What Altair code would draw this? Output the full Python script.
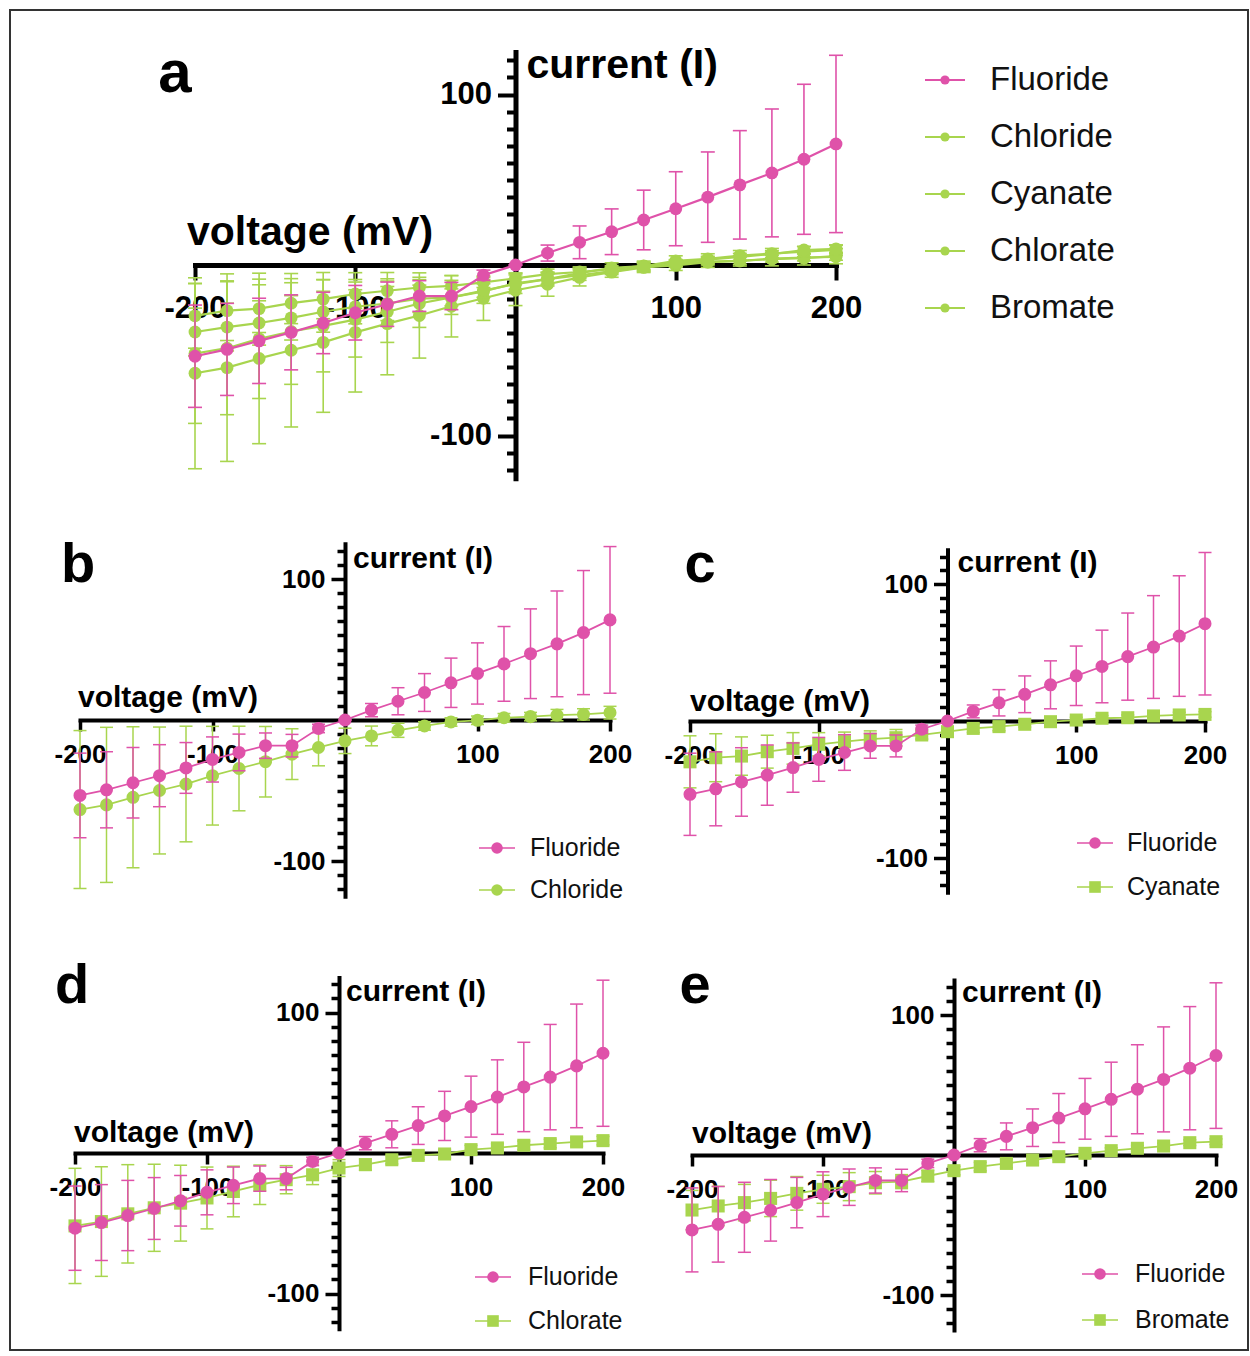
import altair as alt
import pandas as pd

# ---------------- data ----------------
voltage = [-200, -180, -160, -140, -120, -100, -80, -60, -40, -20, 0,
           20, 40, 60, 80, 100, 120, 140, 160, 180, 200]

fluoride = [-53.5, -49.5, -44.5, -39.5, -34, -28, -23, -18.2, -18.2, -6, 0,
            7, 13.3, 19.5, 26.4, 33, 39.8, 47, 54, 62, 71]
fluoride_sd = [30, 27, 25, 22, 18, 16, 13, 9, 8, 3, 0,
               4.7, 9.6, 13.4, 17.5, 21.7, 26.5, 31.8, 37.5, 44, 52]

chloride = [-63.5, -60.2, -54.8, -50, -45.4, -39.5, -34.4, -29.6, -24.2, -19.5, -14.8,
            -11.3, -7.3, -4.2, -1.4, -0.2, 1.6, 2.4, 3.5, 4, 5.2]
chloride_sd = [56, 55, 50, 45, 41, 35, 30, 25, 18, 13, 9,
               7, 5, 3, 3, 3, 3, 3, 4, 4, 4.5]

cyanate = [-29.8, -26.8, -25.6, -22.4, -20, -17, -15.1, -13.2, -12.2, -10.2, -7.8,
           -5.4, -4.1, -2.4, -0.5, 0.7, 2, 2.4, 3.7, 4.4, 4.8]
cyanate_sd = [19, 17.5, 14, 12, 11.5, 8.5, 7, 6, 6, 3, 3,
              3, 3, 2, 2, 2, 2, 2, 2, 2, 2]

chlorate = [-51.9, -48.8, -43.3, -39, -35.7, -32, -27.4, -22.6, -19, -15.5, -10.7,
            -8.3, -4.8, -1.7, -0.7, 2.4, 3.6, 5.5, 6.7, 7.9, 8.8]
chlorate_sd = [41, 39, 35, 31, 27, 22, 18, 14, 10, 7, 6,
               4, 3, 3, 3, 3, 3, 3, 3, 3, 3]

bromate = [-39.3, -36.4, -34, -31, -27.4, -24.5, -22.6, -19.8, -19, -15, -11.2,
           -8.3, -6, -3.6, -1.2, 1.2, 3.1, 4.8, 6.4, 8.8, 9.5]
bromate_sd = [14, 14, 13, 13, 12, 10, 10, 8, 5, 4, 3,
              3, 3, 2, 2, 2, 2, 2, 2, 2, 2]

series_values = {
    "Fluoride": (fluoride, fluoride_sd),
    "Chloride": (chloride, chloride_sd),
    "Cyanate": (cyanate, cyanate_sd),
    "Chlorate": (chlorate, chlorate_sd),
    "Bromate": (bromate, bromate_sd),
}

x_tick_values = [-200, -100, 100, 200]
y_tick_values = [v for v in range(-120, 121, 10) if v != 0]
x_title = "voltage (mV)"
y_title = "current (I)"

PINK = "#DF52A9"
GREEN = "#A8D54E"
colors = {"Fluoride": PINK, "Chloride": GREEN, "Cyanate": GREEN,
          "Chlorate": GREEN, "Bromate": GREEN}
FONT = "Liberation Sans"


def series_df(name):
    vals, sd = series_values[name]
    return pd.DataFrame({
        "v": voltage,
        "I": vals,
        "lo": [a - b for a, b in zip(vals, sd)],
        "hi": [a + b for a, b in zip(vals, sd)],
    })


def one(text):
    return pd.DataFrame({"t": [text]})


def build_panel(p):
    W, H = p["W"], p["H"]
    xr = p["xr"]
    y0, ypx = p["y0"], p["ypx"]
    x0 = (xr[0] + xr[1]) / 2.0

    xs = alt.Scale(domain=[-200, 200], range=list(xr), nice=False, zero=False)
    ys = alt.Scale(domain=[-125, 125], range=[y0 + 125 * ypx, y0 - 125 * ypx],
                   nice=False, zero=False)

    x_axis = alt.Axis(
        values=x_tick_values, orient="bottom", offset=y0 - H, title=None,
        grid=False, domainColor="black", domainWidth=p["dw"],
        tickColor="black", tickWidth=p["tw"], tickSize=p["xts"],
        labelExpr="toString(datum.value)", labelFont=FONT,
        labelFontWeight="bold", labelFontSize=p["lfs"], labelColor="black",
        labelPadding=p["xlp"], labelFlush=False, labelOverlap=False,
        labelBound=False, domainCap="square")
    y_axis = alt.Axis(
        values=y_tick_values, orient="left", offset=-x0, title=None,
        grid=False, domainColor="black", domainWidth=p["dw"],
        tickColor="black", tickWidth=p["tw"],
        tickSize={"condition": {"test": "abs(datum.value) == 100",
                                "value": p["yts_major"]},
                  "value": p["yts_minor"]},
        labelExpr="abs(datum.value) == 100 ? toString(datum.value) : ''",
        labelFont=FONT, labelFontWeight="bold", labelFontSize=p["lfs"],
        labelColor="black", labelPadding=p["ylp"], labelFlush=False,
        labelOverlap=False, labelBound=False, domainCap="square")

    X = alt.X("v:Q", scale=xs, axis=x_axis)
    layers = []

    for name in p["draw"]:
        df = series_df(name)
        c = colors[name]
        shape = p["shapes"].get(name, "circle")
        layers.append(alt.Chart(df).mark_rule(color=c, strokeWidth=p["ew"]).encode(
            x=X, y=alt.Y("lo:Q", scale=ys, axis=y_axis), y2="hi:Q"))
        for f in ("lo", "hi"):
            layers.append(alt.Chart(df).mark_tick(
                color=c, orient="horizontal", size=p["cw"], thickness=p["ew"],
                opacity=1).encode(x=X, y=alt.Y(f + ":Q", scale=ys, axis=y_axis)))
        layers.append(alt.Chart(df).mark_line(color=c, strokeWidth=p["lw"]).encode(
            x=X, y=alt.Y("I:Q", scale=ys, axis=y_axis)))
        layers.append(alt.Chart(df).mark_point(
            filled=True, shape=shape, size=p["ms"], color=c, opacity=1).encode(
            x=X, y=alt.Y("I:Q", scale=ys, axis=y_axis)))

    # axis titles and panel letter
    layers.append(alt.Chart(one(x_title)).mark_text(
        align="left", baseline="alphabetic", font=FONT, fontWeight="bold",
        fontSize=p["tfs"], color="black").encode(
        text="t:N", x=alt.value(p["xt"][0]), y=alt.value(p["xt"][1])))
    layers.append(alt.Chart(one(y_title)).mark_text(
        align="left", baseline="alphabetic", font=FONT, fontWeight="bold",
        fontSize=p["tfs"], color="black").encode(
        text="t:N", x=alt.value(x0 + p["yt"][0]), y=alt.value(p["yt"][1])))
    layers.append(alt.Chart(one(p["letter"])).mark_text(
        align="center", baseline="alphabetic", font=FONT, fontWeight="bold",
        fontSize=p["letfs"], color="black").encode(
        text="t:N", x=alt.value(p["let"][0]), y=alt.value(p["let"][1])))

    # legend
    sx, tx, ly, ldy = p["leg"]
    for i, name in enumerate(p["legend"]):
        c = colors[name]
        shape = p["shapes"].get(name, "circle")
        yy = ly + i * ldy
        d1 = one(name)
        layers.append(alt.Chart(d1).mark_rule(color=c, strokeWidth=p["lw"] * 0.8).encode(
            x=alt.value(sx - p["lhl"]), x2=alt.value(sx + p["lhl"]), y=alt.value(yy)))
        layers.append(alt.Chart(d1).mark_point(
            filled=True, shape=shape, size=p["lms"], color=c, opacity=1).encode(
            x=alt.value(sx), y=alt.value(yy)))
        layers.append(alt.Chart(d1).mark_text(
            align="left", baseline="middle", font=FONT, fontSize=p["legfs"],
            color="#111111").encode(text="t:N", x=alt.value(tx), y=alt.value(yy)))

    if p.get("border"):
        layers.append(alt.Chart(one("")).mark_rect(
            fillOpacity=0, stroke="#333333", strokeWidth=2).encode(
            x=alt.value(10), x2=alt.value(1248), y=alt.value(10), y2=alt.value(1350)))

    return alt.layer(*layers).properties(width=W, height=H)


big = dict(dw=5, tw=4, xts=15, yts_major=18, yts_minor=9, lfs=31,
           xlp=13, ylp=6, ew=1.6, cw=14, lw=2.2, ms=165, tfs=41, letfs=60,
           lms=85, lhl=20, legfs=33)
small = dict(dw=4, tw=3.5, xts=11, yts_major=14, yts_minor=8, lfs=26,
             xlp=10, ylp=6, ew=1.5, cw=13, lw=1.8, ms=170, tfs=30, letfs=56,
             lms=135, lhl=18, legfs=25)

# panel a occupies a 625-wide grid cell but draws across the whole row (flush bounds)
pa = dict(big, letter="a", W=625, H=515, xr=(195, 836), y0=265, ypx=1.705,
          draw=["Chloride", "Cyanate", "Chlorate", "Bromate", "Fluoride"],
          shapes={}, legend=["Fluoride", "Chloride", "Cyanate", "Chlorate", "Bromate"],
          xt=(187, 245), yt=(11, 78), let=(175, 92), leg=(945, 990, 80, 57),
          border=True)
pb = dict(small, letter="b", W=625, H=425, xr=(80, 610), y0=205, ypx=1.41,
          draw=["Chloride", "Fluoride"], shapes={}, legend=["Fluoride", "Chloride"],
          xt=(78, 192), yt=(8, 53), let=(78, 67), leg=(497, 530, 333, 42))
pc = dict(small, letter="c", W=625, H=425, xr=(65, 580), y0=206, ypx=1.37,
          draw=["Cyanate", "Fluoride"], shapes={"Cyanate": "square"},
          legend=["Fluoride", "Cyanate"],
          xt=(65, 196), yt=(10, 57), let=(75, 67), leg=(470, 502, 328, 44))
pd_ = dict(small, letter="d", W=625, H=416, xr=(75, 603), y0=213, ypx=1.405,
           draw=["Chlorate", "Fluoride"], shapes={"Chlorate": "square"},
           legend=["Fluoride", "Chlorate"],
           xt=(74, 202), yt=(7, 61), let=(72, 63), leg=(493, 528, 337, 44))
pe = dict(small, letter="e", W=625, H=416, xr=(67, 591), y0=215, ypx=1.40,
          draw=["Bromate", "Fluoride"], shapes={"Bromate": "square"},
          legend=["Fluoride", "Bromate"],
          xt=(67, 203), yt=(8, 62), let=(70, 63), leg=(475, 510, 334, 46))

placeholder = alt.Chart(one("")).mark_text(opacity=0, baseline="middle").encode(
    text="t:N", x=alt.value(300), y=alt.value(250)).properties(width=625, height=515)

chart = alt.concat(
    build_panel(pa), placeholder,
    build_panel(pb), build_panel(pc),
    build_panel(pd_), build_panel(pe),
    columns=2, spacing=0, bounds="flush",
).properties(padding=0, background="white").configure_view(stroke=None)

chart.save("out.html", embed_options={"renderer": "svg", "actions": False})
